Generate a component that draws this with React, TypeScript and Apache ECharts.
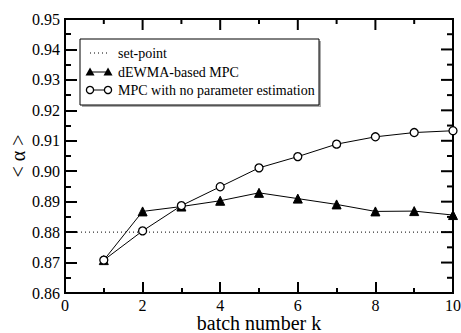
import React, { useEffect, useRef } from "react";
import * as echarts from "echarts";

const batches = [1, 2, 3, 4, 5, 6, 7, 8, 9, 10];
const dewmaValues = [0.8708, 0.8868, 0.8884, 0.8903, 0.8929, 0.891, 0.8891, 0.8868, 0.8869, 0.8856];
const noEstValues = [0.8708, 0.8804, 0.8887, 0.8949, 0.9011, 0.9048, 0.9089, 0.9113, 0.9127, 0.9133];
const setPointValue = 0.88;
const setPointRange = [0, 10];
const seriesNames = ["set-point", "dEWMA-based MPC", "MPC with no parameter estimation"];
const xTitle = "batch number k";
const yTitle = "< α >";
const xMajorTicks = [0, 2, 4, 6, 8, 10];
const xMinorTicks = [1, 3, 5, 7, 9];
const yMajorTicks = [0.86, 0.87, 0.88, 0.89, 0.9, 0.91, 0.92, 0.93, 0.94, 0.95];
const yMinorTicks = [0.865, 0.875, 0.885, 0.895, 0.905, 0.915, 0.925, 0.935, 0.945];

const FONT = "Liberation Serif";

function legendGraphic() {
  const x0 = 80;
  const y0 = 39;
  const rows = [53, 72, 90];
  const iconL = 90;
  const iconR = 108;
  const textX = 118;
  const txt = (y: number, s: string) => ({
    type: "text",
    x: textX,
    y,
    style: { text: s, fontFamily: FONT, fontSize: 14, fill: "#000", align: "left", verticalAlign: "middle" },
  });
  const tri = (cx: number, cy: number) => ({
    type: "polygon",
    shape: { points: [[cx, cy - 4.5], [cx - 4.5, cy + 3.5], [cx + 4.5, cy + 3.5]] },
    style: { fill: "#000" },
  });
  const circ = (cx: number, cy: number) => ({
    type: "circle",
    shape: { cx, cy, r: 3.6 },
    style: { fill: "#fff", stroke: "#000", lineWidth: 1.3 },
  });
  return {
    type: "group",
    children: [
      { type: "rect", shape: { x: x0 + 2, y: y0 + 2, width: 239, height: 66 }, style: { fill: "#aaa" } },
      { type: "rect", shape: { x: x0, y: y0, width: 239, height: 66 }, style: { fill: "#fff", stroke: "#000", lineWidth: 1 } },
      { type: "line", shape: { x1: iconL, y1: rows[0], x2: iconR, y2: rows[0] }, style: { stroke: "#000", lineWidth: 1, lineDash: [1, 3] } },
      txt(rows[0], seriesNames[0]),
      { type: "line", shape: { x1: iconL, y1: rows[1], x2: iconR, y2: rows[1] }, style: { stroke: "#000", lineWidth: 1 } },
      tri(iconL, rows[1]),
      tri(iconR, rows[1]),
      txt(rows[1], seriesNames[1]),
      { type: "line", shape: { x1: iconL, y1: rows[2], x2: iconR, y2: rows[2] }, style: { stroke: "#000", lineWidth: 1 } },
      circ(iconL, rows[2]),
      circ(iconR, rows[2]),
      txt(rows[2], seriesNames[2]),
    ],
  };
}

export default function App() {
  const ref = useRef<HTMLDivElement>(null);
  useEffect(() => {
    if (!ref.current) return;
    document.body.style.margin = "0";
    const chart = echarts.init(ref.current, undefined, { renderer: "svg" });
    chart.setOption({
      animation: false,
      grid: {
        left: 65,
        right: 8,
        top: 19,
        bottom: 40,
        outerBoundsMode: "none",
        show: true,
        borderColor: "#000",
        borderWidth: 2,
        backgroundColor: "transparent",
      },
      graphic: [
        legendGraphic(),
        {
          type: "text",
          x: 259,
          y: 323,
          style: { text: xTitle, fontFamily: FONT, fontSize: 20, fill: "#000", align: "center", verticalAlign: "middle" },
        },
        {
          type: "text",
          x: 18,
          y: 156,
          rotation: Math.PI / 2,
          style: { text: yTitle, fontFamily: FONT, fontSize: 20, fill: "#000", align: "center", verticalAlign: "middle" },
        },
      ],
      xAxis: {
        type: "value",
        min: 0,
        max: 10,
        interval: 2,
        axisLine: { show: true, lineStyle: { color: "#000", width: 2 } },
        splitLine: { show: false },
        axisTick: { show: true, inside: true, length: 11, lineStyle: { color: "#000", width: 2 } },
        minorTick: { show: true, splitNumber: 2, length: 5, lineStyle: { color: "#000", width: 2 } },
        axisLabel: { show: true, fontFamily: FONT, fontSize: 16, color: "#000", margin: 4 },
      },
      yAxis: {
        type: "value",
        min: 0.86,
        max: 0.95,
        interval: 0.01,
        axisLine: { show: true, lineStyle: { color: "#000", width: 2 } },
        splitLine: { show: false },
        axisTick: { show: true, inside: true, length: 12, lineStyle: { color: "#000", width: 2 } },
        minorTick: { show: true, splitNumber: 2, length: 6, lineStyle: { color: "#000", width: 2 } },
        axisLabel: {
          show: true,
          fontFamily: FONT,
          fontSize: 16,
          color: "#000",
          margin: 5,
          formatter: (v: number) => v.toFixed(2),
        },
      },
      series: [
        {
          type: "custom",
          silent: true,
          clip: false,
          z: 1,
          data: [[0, 0.86]],
          renderItem: (params: any, api: any) => {
            const cs = params.coordSys;
            const top = cs.y;
            const right = cs.x + cs.width;
            const children: any[] = [];
            const style = { stroke: "#000", lineWidth: 2 };
            xMajorTicks.forEach((v) => {
              const px = api.coord([v, 0.86])[0];
              children.push({ type: "line", shape: { x1: px, y1: top, x2: px, y2: top + 11 }, style });
            });
            xMinorTicks.forEach((v) => {
              const px = api.coord([v, 0.86])[0];
              children.push({ type: "line", shape: { x1: px, y1: top, x2: px, y2: top + 5 }, style });
            });
            yMajorTicks.forEach((v) => {
              const py = api.coord([0, v])[1];
              children.push({ type: "line", shape: { x1: right, y1: py, x2: right - 12, y2: py }, style });
            });
            yMinorTicks.forEach((v) => {
              const py = api.coord([0, v])[1];
              children.push({ type: "line", shape: { x1: right, y1: py, x2: right - 6, y2: py }, style });
            });
            return { type: "group", children };
          },
        },
        {
          name: seriesNames[0],
          type: "line",
          data: setPointRange.map((x) => [x, setPointValue]),
          symbol: "none",
          lineStyle: { color: "#000", width: 1, type: [1, 3] },
          itemStyle: { color: "#000" },
        },
        {
          name: seriesNames[1],
          type: "line",
          data: batches.map((b, i) => [b, dewmaValues[i]]),
          symbol: "triangle",
          symbolSize: 9,
          lineStyle: { color: "#000", width: 1 },
          itemStyle: { color: "#000", borderColor: "#000", borderWidth: 1 },
        },
        {
          name: seriesNames[2],
          type: "line",
          data: batches.map((b, i) => [b, noEstValues[i]]),
          symbol: "circle",
          symbolSize: 8,
          lineStyle: { color: "#000", width: 1 },
          itemStyle: { color: "#fff", borderColor: "#000", borderWidth: 1.3 },
        },
      ],
    });
    return () => chart.dispose();
  }, []);
  return <div ref={ref} style={{ width: 461, height: 333 }} />;
}
